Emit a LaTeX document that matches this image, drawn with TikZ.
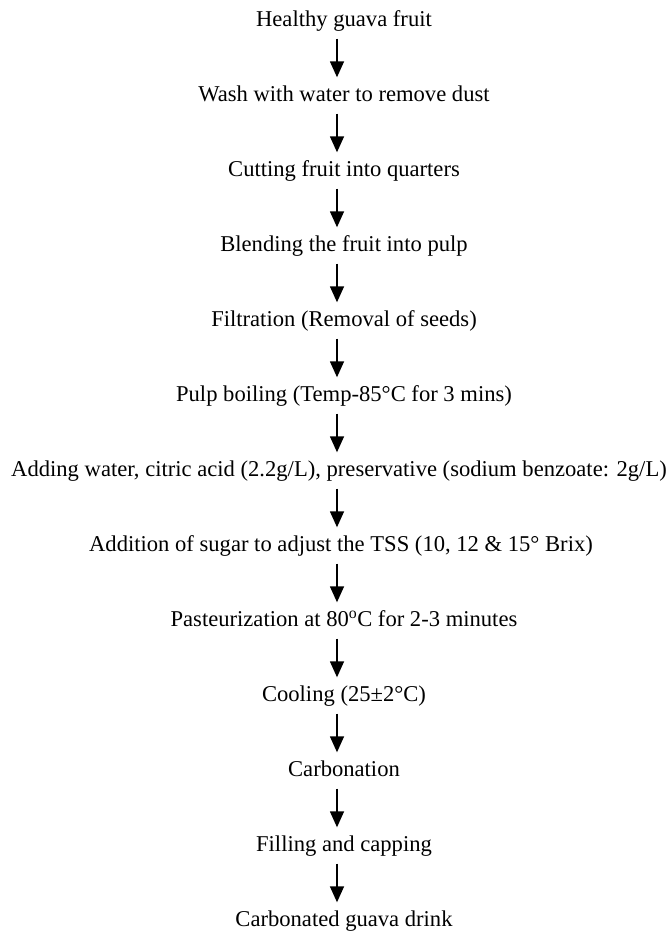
\documentclass[tikz,border=0pt]{standalone}
\usepackage{fontspec}
\setmainfont{Liberation Serif}
\usetikzlibrary{arrows.meta}
\begin{document}
\begin{tikzpicture}[x=1pt,y=-1pt]
\useasboundingbox (0,0) rectangle (670,932);
\begin{scope}[every node/.style={inner sep=0pt,text height=15pt,text depth=4pt,
              font=\fontsize{22.6}{26}\selectfont}]
    \node (fruit) at (344,21) {Healthy guava fruit};
    \node (wash) at (344,96) {Wash with water to remove dust};
    \node (cut) at (344,171) {Cutting fruit into quarters};
    \node (blend) at (344,246) {Blending the fruit into pulp};
    \node (filt) at (344,321) {Filtration (Removal of seeds)};
    \node (boil) at (344,396) {Pulp boiling (Temp-85°C for 3 mins)};
    \node (add) at (339,471) {Adding water, citric acid (2.2g/L), preservative (sodium benzoate: 2g/L)};
    \node (sugar) at (341,546) {Addition of sugar to adjust the TSS (10, 12 \& 15° Brix)};
    \node (past) at (344,621) {Pasteurization at 80\textsuperscript{o}C for 2-3 minutes};
    \node (cool) at (344,696) {Cooling (25±2°C)};
    \node (carb) at (344,771) {Carbonation};
    \node (fill) at (344,846) {Filling and capping};
    \node (drink) at (344,921) {Carbonated guava drink};
\end{scope}
\begin{scope}[every edge/.style={draw=black,line width=1.5pt,
              -{Triangle[width=14pt,length=16pt]},shorten <=8pt,shorten >=9pt}]
    \path (fruit.south -| 337,0) edge (wash.north -| 337,0);
    \path (wash.south -| 337,0) edge (cut.north -| 337,0);
    \path (cut.south -| 337,0) edge (blend.north -| 337,0);
    \path (blend.south -| 337,0) edge (filt.north -| 337,0);
    \path (filt.south -| 337,0) edge (boil.north -| 337,0);
    \path (boil.south -| 337,0) edge (add.north -| 337,0);
    \path (add.south -| 337,0) edge (sugar.north -| 337,0);
    \path (sugar.south -| 337,0) edge (past.north -| 337,0);
    \path (past.south -| 337,0) edge (cool.north -| 337,0);
    \path (cool.south -| 337,0) edge (carb.north -| 337,0);
    \path (carb.south -| 337,0) edge (fill.north -| 337,0);
    \path (fill.south -| 337,0) edge (drink.north -| 337,0);
\end{scope}
\end{tikzpicture}
\end{document}
